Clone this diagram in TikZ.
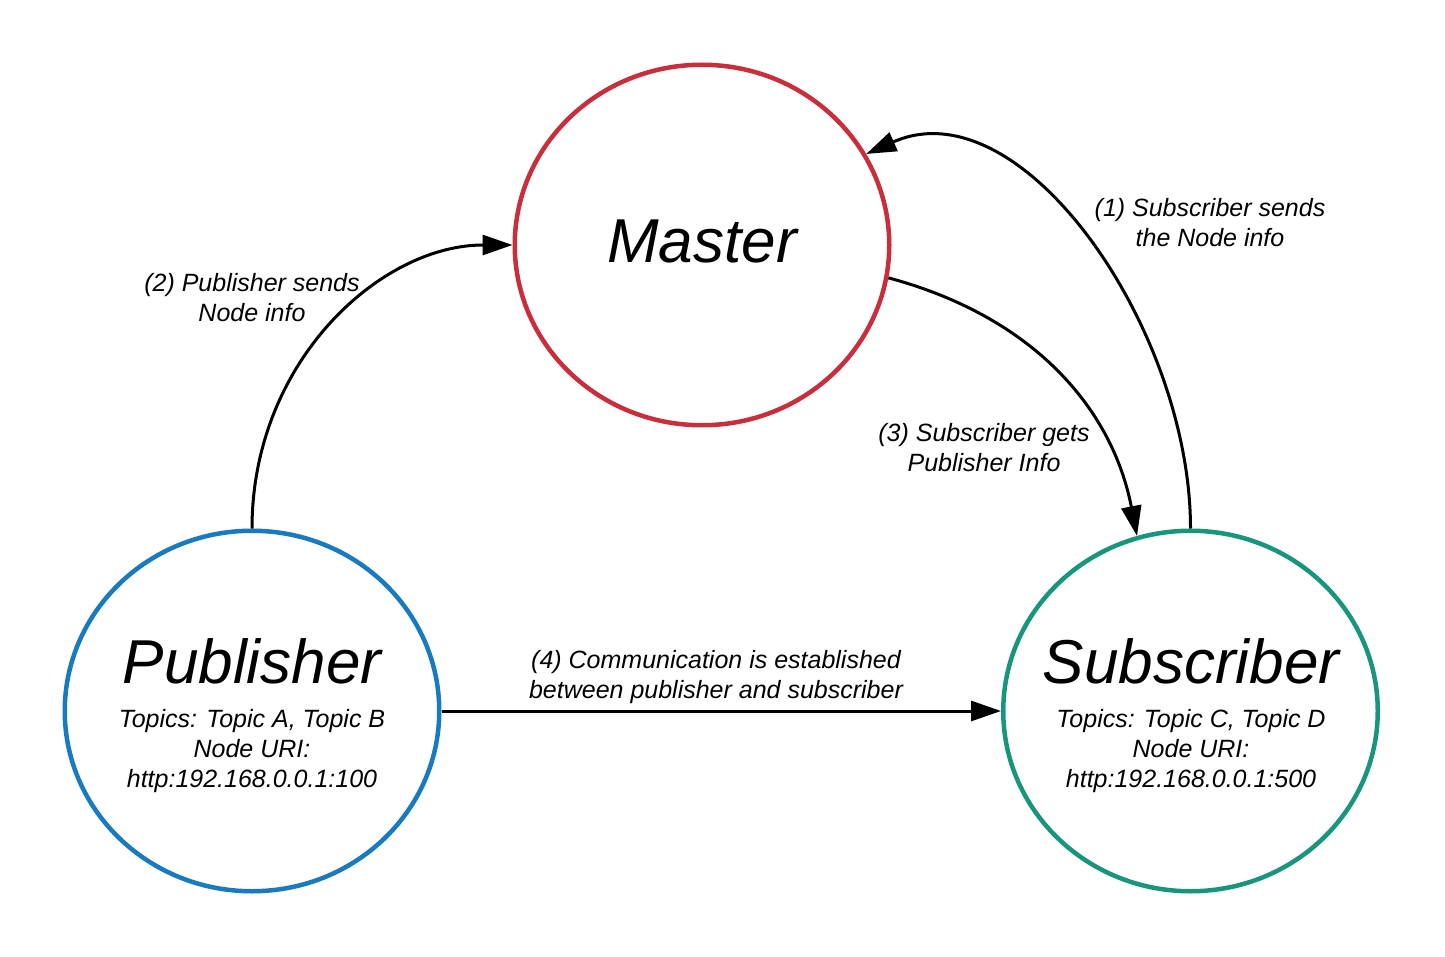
\documentclass[tikz,border=0pt]{standalone}
\usepackage{fontspec}
\setmainfont{Liberation Sans}
\usetikzlibrary{shapes.geometric, arrows.meta}
\definecolor{masterred}{RGB}{201,46,60}
\definecolor{pubblue}{RGB}{24,122,191}
\definecolor{subteal}{RGB}{24,150,124}
\begin{document}
\begin{tikzpicture}[x=0.5pt, y=-0.5pt, >={Triangle[length=15pt,width=10pt]},
    proc/.style={ellipse, draw, line width=2.25pt, minimum width=187.25pt, minimum height=180.25pt, inner sep=0pt},
    bigname/.style={font=\fontsize{31}{37}\selectfont\itshape},
    msg/.style={font=\fontsize{12.5}{15}\selectfont\itshape, align=center},
    flow/.style={->, draw=black, line width=1.5pt}]
        \useasboundingbox (0,0) rectangle (1445,957);
        % the three nodes
        \node[proc, draw=masterred, bigname, text depth=4pt] (master) at (702,245) {Master};
        \node[proc, draw=pubblue] (pub) at (252,711) {};
        \node[proc, draw=subteal] (sub) at (1190.5,711) {};
        \node[bigname] (pubname) at (252,661) {Publisher};
        \node[msg] (pubinfo) at (252,751) {Topics: Topic A, Topic B\\Node URI:\\http:192.168.0.0.1:100};
        \node[bigname] (subname) at (1191,661) {Subscriber};
        \node[msg] (subinfo) at (1191,751) {Topics: Topic C, Topic D\\Node URI:\\http:192.168.0.0.1:500};
        % messages
        \draw[flow] (sub.north) .. controls +(90:100pt) and +(24:85pt) .. (master.29);
        \draw[flow] (pub.north) .. controls +(90:83.5pt) and +(180:66pt) .. (master.west);
        \draw[flow] (master.-10) .. controls +(-15:75pt) and +(101:65pt) .. (sub.107);
        \draw[flow] (pub.east) -- (sub.west);
        \node[msg] (step1) at (1210,223) {(1) Subscriber sends\\the Node info};
        \node[msg] (step2) at (252,298) {(2) Publisher sends\\Node info};
        \node[msg] (step3) at (984,448) {(3) Subscriber gets\\Publisher Info};
        \node[msg] (step4) at (716,677) {(4) Communication is established\\between publisher and subscriber};
      \end{tikzpicture}
\end{document}
